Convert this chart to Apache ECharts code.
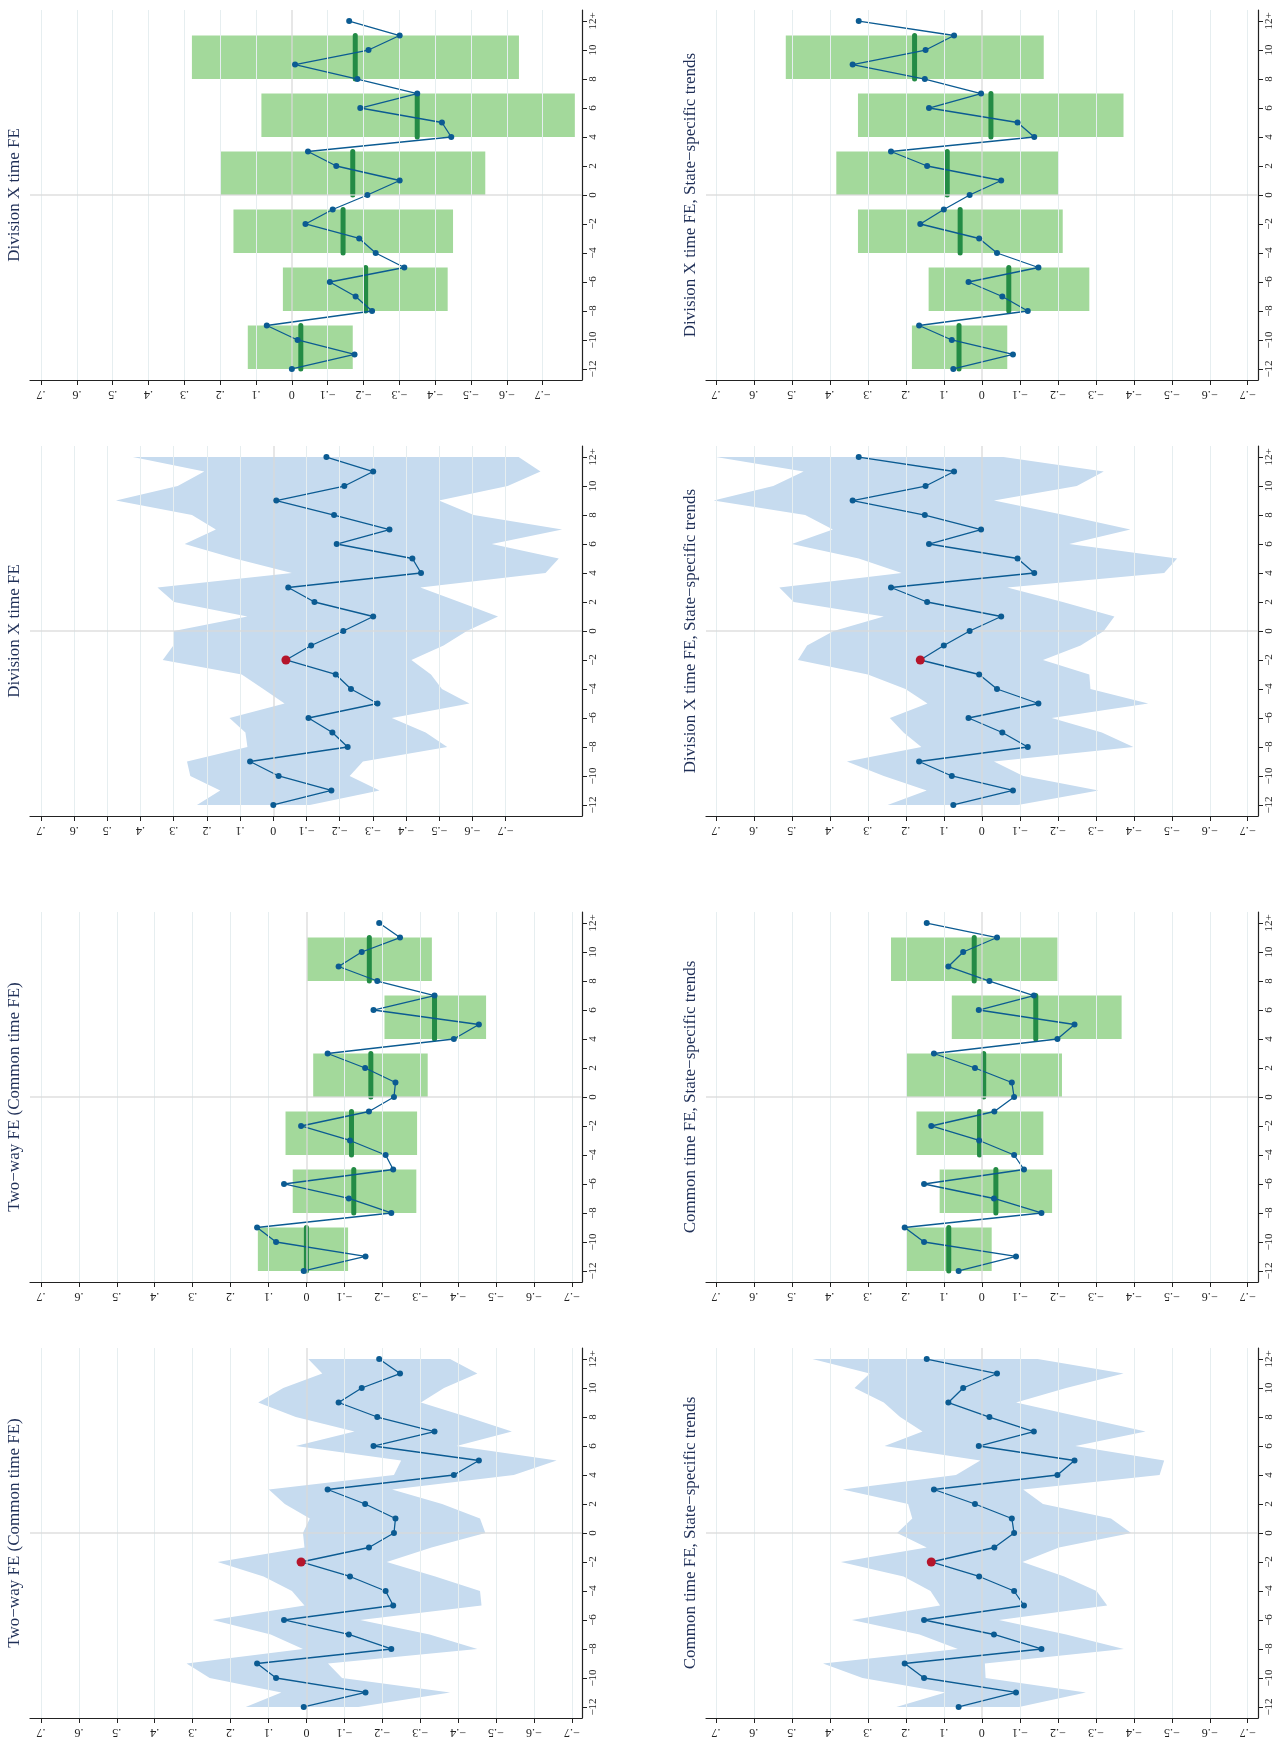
<!DOCTYPE html>
<html>
<head>
<meta charset="utf-8">
<script src="https://cdn.jsdelivr.net/npm/echarts@6/dist/echarts.min.js"></script>
<style>html,body{margin:0;padding:0;background:#fff}#main{width:1283px;height:1752px}</style>
</head>
<body>
<div id="main"></div>
<script>
// event time, top (12+) to bottom (-12)
var events = [12,11,10,9,8,7,6,5,4,3,2,1,0,-1,-2,-3,-4,-5,-6,-7,-8,-9,-10,-11,-12];
var eventTicks = [-12,-10,-8,-6,-4,-2,0,2,4,6,8,10,12];
var valueTicks = [-0.7,-0.6,-0.5,-0.4,-0.3,-0.2,-0.1,0,0.1,0.2,0.3,0.4,0.5,0.6,0.7];
// bins: [top event, bottom event]
var bins = [[11,8],[7,4],[3,0],[-1,-4],[-5,-8],[-9,-12]];

// Division X time FE
var divPts = [-0.160,-0.301,-0.214,-0.009,-0.183,-0.35,-0.191,-0.419,-0.445,-0.045,-0.124,-0.301,-0.211,-0.114,-0.038,-0.188,-0.234,-0.314,-0.106,-0.178,-0.224,0.07,-0.016,-0.175,0.0];
var divHi = [0.423,0.208,0.288,0.474,0.245,0.173,0.267,0.116,-0.056,0.349,0.299,0.078,0.299,0.301,0.333,0.095,0.030,-0.034,0.132,0.084,0.078,0.26,0.25,0.16,0.23];
var divLo = [-0.739,-0.805,-0.706,-0.499,-0.604,-0.87,-0.658,-0.86,-0.82,-0.443,-0.561,-0.677,-0.583,-0.513,-0.416,-0.475,-0.508,-0.591,-0.357,-0.459,-0.524,-0.27,-0.23,-0.32,-0.11];
var divBinEst = [-0.177,-0.35,-0.17,-0.143,-0.206,-0.025];
var divBinHi = [0.279,0.085,0.20,0.163,0.025,0.123];
var divBinLo = [-0.634,-0.79,-0.54,-0.45,-0.435,-0.17];

// Two-way FE (Common time FE)
var twfePts = [-0.192,-0.247,-0.146,-0.085,-0.187,-0.338,-0.177,-0.455,-0.389,-0.056,-0.155,-0.235,-0.231,-0.165,0.014,-0.115,-0.209,-0.229,0.059,-0.112,-0.224,0.13,0.08,-0.156,0.007];
var twfeHi = [-0.005,-0.042,0.061,0.127,0.028,-0.127,0.028,-0.25,-0.231,0.099,0.057,-0.009,0.009,0.005,0.234,0.113,0.038,0.005,0.247,0.094,0.009,0.316,0.255,0.066,0.16];
var twfeLo = [-0.379,-0.451,-0.363,-0.302,-0.425,-0.542,-0.396,-0.66,-0.547,-0.226,-0.358,-0.458,-0.472,-0.33,-0.212,-0.34,-0.458,-0.462,-0.142,-0.325,-0.451,-0.057,-0.094,-0.379,-0.137];
var twfeBinEst = [-0.166,-0.338,-0.17,-0.119,-0.125,0.0];
var twfeBinHi = [-0.002,-0.206,-0.018,0.055,0.036,0.128];
var twfeBinLo = [-0.331,-0.474,-0.32,-0.292,-0.29,-0.11];

// Division X time FE, State-specific trends
var divTrPts = [0.324,0.073,0.148,0.340,0.150,0.002,0.139,-0.094,-0.138,0.239,0.144,-0.051,0.032,0.10,0.162,0.007,-0.040,-0.149,0.035,-0.054,-0.121,0.165,0.079,-0.082,0.075];
var divTrHi = [0.70,0.469,0.549,0.706,0.465,0.392,0.50,0.324,0.211,0.533,0.495,0.258,0.39,0.46,0.484,0.30,0.201,0.143,0.242,0.206,0.159,0.355,0.258,0.145,0.248];
var divTrLo = [-0.057,-0.321,-0.25,-0.032,-0.217,-0.391,-0.23,-0.514,-0.48,-0.067,-0.213,-0.349,-0.321,-0.26,-0.161,-0.283,-0.286,-0.438,-0.184,-0.316,-0.399,-0.032,-0.109,-0.307,-0.095];
var divTrBinEst = [0.177,-0.024,0.091,0.057,-0.071,0.06];
var divTrBinHi = [0.516,0.326,0.383,0.326,0.140,0.184];
var divTrBinLo = [-0.163,-0.373,-0.201,-0.213,-0.283,-0.067];

// Common time FE, State-specific trends
var ctTrPts = [0.145,-0.040,0.049,0.088,-0.020,-0.137,0.008,-0.244,-0.199,0.126,0.018,-0.079,-0.085,-0.033,0.133,0.007,-0.085,-0.111,0.152,-0.032,-0.157,0.203,0.152,-0.09,0.061];
var ctTrHi = [0.446,0.295,0.335,0.258,0.215,0.156,0.256,0.004,0.068,0.366,0.194,0.183,0.223,0.145,0.371,0.206,0.135,0.11,0.342,0.164,0.063,0.418,0.314,0.096,0.225];
var ctTrLo = [-0.147,-0.373,-0.222,-0.09,-0.26,-0.431,-0.246,-0.48,-0.468,-0.109,-0.161,-0.34,-0.393,-0.203,-0.107,-0.217,-0.302,-0.33,-0.045,-0.222,-0.374,-0.008,-0.01,-0.274,-0.098];
var ctTrBinEst = [0.02,-0.142,-0.005,0.006,-0.037,0.087];
var ctTrBinHi = [0.239,0.079,0.199,0.172,0.111,0.197];
var ctTrBinLo = [-0.199,-0.368,-0.211,-0.162,-0.185,-0.026];

var panels = [
  {col:0, row:0, title:'Division X time FE', kind:'bin', pts:divPts, est:divBinEst, hi:divBinHi, lo:divBinLo, xmax:0.731, xmin:-0.81},
  {col:0, row:1, title:'Division X time FE', kind:'band', pts:divPts, hi:divHi, lo:divLo, xmax:0.733, xmin:-0.93},
  {col:0, row:2, title:'Two\u2212way FE (Common time FE)', kind:'bin', pts:twfePts, est:twfeBinEst, hi:twfeBinHi, lo:twfeBinLo, xmax:0.729, xmin:-0.727},
  {col:0, row:3, title:'Two\u2212way FE (Common time FE)', kind:'band', pts:twfePts, hi:twfeHi, lo:twfeLo, xmax:0.729, xmin:-0.727},
  {col:1, row:0, title:'Division X time FE, State\u2212specific trends', kind:'bin', pts:divTrPts, est:divTrBinEst, hi:divTrBinHi, lo:divTrBinLo, xmax:0.726, xmin:-0.727},
  {col:1, row:1, title:'Division X time FE, State\u2212specific trends', kind:'band', pts:divTrPts, hi:divTrHi, lo:divTrLo, xmax:0.726, xmin:-0.727},
  {col:1, row:2, title:'Common time FE, State\u2212specific trends', kind:'bin', pts:ctTrPts, est:ctTrBinEst, hi:ctTrBinHi, lo:ctTrBinLo, xmax:0.726, xmin:-0.727},
  {col:1, row:3, title:'Common time FE, State\u2212specific trends', kind:'band', pts:ctTrPts, hi:ctTrHi, lo:ctTrLo, xmax:0.726, xmin:-0.727}
];

var rowTop = [10, 446, 912, 1348];
var colLeft = [30, 706];
var titleX = [15, 691];
var gridW = 552, gridH = 370;
var serif = '"Liberation Serif", "DejaVu Serif", serif';

function fmtVal(v) {
  var r = Math.round(v * 10);
  if (r === 0) return '0';
  return (r < 0 ? '\u2212' : '') + '.' + Math.abs(r);
}
function fmtEvt(v) {
  if (v === 12) return '12+';
  return v < 0 ? '\u2212' + (-v) : String(v);
}

var grid = [], xAxis = [], yAxis = [], series = [], graphic = [];

panels.forEach(function (p, i) {
  grid.push({left: colLeft[p.col], top: rowTop[p.row], width: gridW, height: gridH});
  xAxis.push({
    type: 'value', gridIndex: i, inverse: true, min: p.xmin, max: p.xmax,
    axisLine: {show: true, onZero: false, lineStyle: {color: '#222', width: 1.2}},
    axisTick: {show: true, length: 5, customValues: valueTicks, lineStyle: {color: '#222'}},
    axisLabel: {customValues: valueTicks, formatter: fmtVal, rotate: 180, margin: 8,
      fontFamily: serif, fontSize: 12, color: '#222'},
    splitLine: {show: false}
  });
  yAxis.push({
    type: 'value', gridIndex: i, position: 'right', min: -12.76, max: 12.76,
    axisLine: {show: true, onZero: false, lineStyle: {color: '#222', width: 1.2}},
    axisTick: {show: true, length: 5, customValues: eventTicks, lineStyle: {color: '#222'}},
    axisLabel: {customValues: eventTicks, formatter: fmtEvt, rotate: 90, margin: 6,
      fontFamily: serif, fontSize: 11, color: '#222'},
    splitLine: {show: false}
  });

  // gridlines
  series.push({
    type: 'line', xAxisIndex: i, yAxisIndex: i, data: [], z: 1, silent: true,
    markLine: {symbol: 'none', silent: true, label: {show: false},
      lineStyle: {color: '#e6eef0', width: 1, type: 'solid'},
      data: valueTicks.filter(function (v) { return Math.abs(v) > 1e-9; }).map(function (v) { return {xAxis: v}; })}
  });

  if (p.kind === 'band') {
    series.push({
      type: 'custom', xAxisIndex: i, yAxisIndex: i, z: 2, silent: true,
      data: [0],
      renderItem: function (params, api) {
        var pts = [];
        for (var k = 0; k < events.length; k++) pts.push(api.coord([p.hi[k], events[k]]));
        for (var k2 = events.length - 1; k2 >= 0; k2--) pts.push(api.coord([p.lo[k2], events[k2]]));
        return {type: 'polygon', shape: {points: pts}, style: {fill: '#c6dbef'}};
      }
    });
  } else {
    series.push({
      type: 'custom', xAxisIndex: i, yAxisIndex: i, z: 2, silent: true,
      data: bins.map(function (b, k) { return [p.hi[k], p.lo[k], b[0], b[1], p.est[k]]; }),
      renderItem: function (params, api) {
        var a = api.coord([api.value(0), api.value(2)]);
        var b = api.coord([api.value(1), api.value(3)]);
        var e1 = api.coord([api.value(4), api.value(2)]);
        var e2 = api.coord([api.value(4), api.value(3)]);
        return {type: 'group', children: [
          {type: 'rect', shape: {x: a[0], y: a[1], width: b[0] - a[0], height: b[1] - a[1]},
            style: {fill: '#a3d99b'}},
          {type: 'line', z2: 5, shape: {x1: e1[0], y1: e1[1], x2: e2[0], y2: e2[1]},
            style: {stroke: '#238b45', lineWidth: 5, lineCap: 'round'}}
        ]};
      }
    });
  }

  // zero lines
  series.push({
    type: 'line', xAxisIndex: i, yAxisIndex: i, data: [], z: 3, silent: true,
    markLine: {symbol: 'none', silent: true, label: {show: false},
      lineStyle: {color: '#d9d9d9', width: 1.5, type: 'solid', opacity: 0.85},
      data: [{xAxis: 0}, {yAxis: 0}]}
  });

  var ptData = events.map(function (e, k) { return [p.pts[k], e]; });
  series.push({
    type: 'line', xAxisIndex: i, yAxisIndex: i, z: 4, silent: true,
    data: ptData,
    lineStyle: {color: '#0b5b92', width: 1.3},
    showSymbol: false
  });
  series.push({
    type: 'scatter', xAxisIndex: i, yAxisIndex: i, z: 5, silent: true,
    data: ptData, symbol: 'circle', symbolSize: 6,
    itemStyle: {color: '#0b5b92', opacity: 1}
  });

  if (p.kind === 'band') {
    var ref = events.indexOf(-2);
    series.push({
      type: 'scatter', xAxisIndex: i, yAxisIndex: i, z: 6, silent: true,
      data: [[p.pts[ref], -2]], symbolSize: 9, itemStyle: {color: '#b5152b', opacity: 1}
    });
  }

  graphic.push({
    type: 'text', x: titleX[p.col], y: rowTop[p.row] + gridH / 2, rotation: Math.PI / 2,
    style: {text: p.title, font: '17px ' + serif, fill: '#1f2f57', align: 'center', verticalAlign: 'middle'}
  });
});

var chart = echarts.init(document.getElementById('main'));
chart.setOption({
  animation: false,
  backgroundColor: '#fff',
  grid: grid, xAxis: xAxis, yAxis: yAxis, series: series, graphic: graphic
});
</script>
</body>
</html>
